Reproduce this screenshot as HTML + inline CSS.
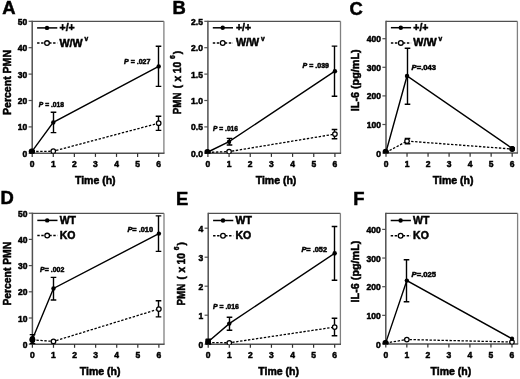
<!DOCTYPE html>
<html><head><meta charset="utf-8"><style>
html,body{margin:0;padding:0;background:#fff;}
svg{display:block;will-change:transform;}
text{font-family:"Liberation Sans", sans-serif;font-weight:bold;fill:#000;stroke:#000;stroke-width:0.5px;}
</style></head><body>
<svg width="520" height="379" viewBox="0 0 520 379">
<rect width="520" height="379" fill="#fff"/>
<path d="M32.2 21.3H163.9" stroke="#505050" stroke-width="1.3" fill="none"/>
<path d="M163.9 21.3V153.3" stroke="#808080" stroke-width="1.3" fill="none"/>
<path d="M32.2 20.7V153.9" stroke="#505050" stroke-width="1.5" fill="none"/>
<path d="M31.6 153.3H164.5" stroke="#505050" stroke-width="1.5" fill="none"/>
<path d="M28.6 153.3H32.2" stroke="#505050" stroke-width="1.2"/>
<text x="27.200000000000003" y="156.8" text-anchor="end" font-size="8.5">0</text>
<path d="M28.6 126.9H32.2" stroke="#505050" stroke-width="1.2"/>
<text x="27.200000000000003" y="130.4" text-anchor="end" font-size="8.5">10</text>
<path d="M28.6 100.5H32.2" stroke="#505050" stroke-width="1.2"/>
<text x="27.200000000000003" y="104.0" text-anchor="end" font-size="8.5">20</text>
<path d="M28.6 74.1H32.2" stroke="#505050" stroke-width="1.2"/>
<text x="27.200000000000003" y="77.6" text-anchor="end" font-size="8.5">30</text>
<path d="M28.6 47.7H32.2" stroke="#505050" stroke-width="1.2"/>
<text x="27.200000000000003" y="51.2" text-anchor="end" font-size="8.5">40</text>
<path d="M28.6 21.3H32.2" stroke="#505050" stroke-width="1.2"/>
<text x="27.200000000000003" y="24.8" text-anchor="end" font-size="8.5">50</text>
<path d="M32.20 153.3V156.9" stroke="#303030" stroke-width="1.2"/>
<text x="32.20" y="167.0" text-anchor="middle" font-size="8.5">0</text>
<path d="M53.28 153.3V156.9" stroke="#303030" stroke-width="1.2"/>
<text x="53.28" y="167.0" text-anchor="middle" font-size="8.5">1</text>
<path d="M74.36 153.3V156.9" stroke="#303030" stroke-width="1.2"/>
<text x="74.36" y="167.0" text-anchor="middle" font-size="8.5">2</text>
<path d="M95.44 153.3V156.9" stroke="#303030" stroke-width="1.2"/>
<text x="95.44" y="167.0" text-anchor="middle" font-size="8.5">3</text>
<path d="M116.52 153.3V156.9" stroke="#303030" stroke-width="1.2"/>
<text x="116.52" y="167.0" text-anchor="middle" font-size="8.5">4</text>
<path d="M137.60 153.3V156.9" stroke="#303030" stroke-width="1.2"/>
<text x="137.60" y="167.0" text-anchor="middle" font-size="8.5">5</text>
<path d="M158.68 153.3V156.9" stroke="#303030" stroke-width="1.2"/>
<text x="158.68" y="167.0" text-anchor="middle" font-size="8.5">6</text>
<text x="95.3" y="183.6" text-anchor="middle" font-size="10.5">Time (h)</text>
<text transform="translate(10.6 115) rotate(-90)" font-size="10.5" textLength="65" lengthAdjust="spacingAndGlyphs">Percent PMN</text>
<text x="2.3" y="14.2" font-size="18.4">A</text>
<path d="M37.1 27.9H57.300000000000004" stroke="#000" stroke-width="1.5"/>
<circle cx="47.0" cy="27.9" r="2.2" fill="#000"/>
<path d="M37.1 43.099999999999994H57.300000000000004" stroke="#000" stroke-width="1.5" stroke-dasharray="2.4,1.6"/>
<circle cx="47.0" cy="43.099999999999994" r="2.35" fill="#fff" stroke="#000" stroke-width="1.3"/>
<text x="59.5" y="31.299999999999997" font-size="10.5">+/+</text>
<text x="59.5" y="46.49999999999999" font-size="10.5" textLength="23.2" lengthAdjust="spacingAndGlyphs">W/W</text>
<text x="84.6" y="40.99999999999999" font-size="6.6">v</text>
<clipPath id="cA"><rect x="20.200000000000003" y="-8.7" width="155.7" height="162.45"/></clipPath>
<g clip-path="url(#cA)">
<polyline points="32.20,151.60 53.28,151.20 158.68,123.20" fill="none" stroke="#000" stroke-width="1.2999999999999998" stroke-dasharray="2.4,1.6"/>
<polyline points="32.20,151.20 53.28,122.40 158.68,66.40" fill="none" stroke="#000" stroke-width="1.4"/>
<path d="M53.50 112.3V132.6M50.70 112.3H56.30M50.70 132.6H56.30" stroke="#000" stroke-width="1.4" fill="none"/>
<path d="M158.50 46.3V86.4M155.70 46.3H161.30M155.70 86.4H161.30" stroke="#000" stroke-width="1.4" fill="none"/>
<path d="M158.50 116.3V130.4M155.70 116.3H161.30M155.70 130.4H161.30" stroke="#000" stroke-width="1.4" fill="none"/>
<circle cx="32.20" cy="151.6" r="2.25" fill="#fff" stroke="#000" stroke-width="1.25"/>
<circle cx="53.28" cy="151.2" r="2.25" fill="#fff" stroke="#000" stroke-width="1.25"/>
<circle cx="158.68" cy="123.2" r="2.25" fill="#fff" stroke="#000" stroke-width="1.25"/>
<circle cx="32.20" cy="151.2" r="2.2" fill="#000"/>
<circle cx="53.28" cy="122.4" r="2.2" fill="#000"/>
<circle cx="158.68" cy="66.4" r="2.2" fill="#000"/>
<circle cx="31.6" cy="151.4" r="2.9" fill="#000"/>
</g>
<text x="38.8" y="106.6" font-size="7.2" textLength="25.2" lengthAdjust="spacingAndGlyphs"><tspan font-style="italic">P</tspan> = .018</text>
<text x="124.0" y="63.6" font-size="7.2" textLength="26.4" lengthAdjust="spacingAndGlyphs"><tspan font-style="italic">P</tspan> = .027</text>
<path d="M207.9 21.3H340.5" stroke="#505050" stroke-width="1.3" fill="none"/>
<path d="M340.5 21.3V153.3" stroke="#808080" stroke-width="1.3" fill="none"/>
<path d="M207.9 20.7V153.9" stroke="#505050" stroke-width="1.5" fill="none"/>
<path d="M207.3 153.3H341.1" stroke="#505050" stroke-width="1.5" fill="none"/>
<path d="M204.3 153.3H207.9" stroke="#505050" stroke-width="1.2"/>
<text x="202.9" y="156.8" text-anchor="end" font-size="8.5">0.0</text>
<path d="M204.3 126.9H207.9" stroke="#505050" stroke-width="1.2"/>
<text x="202.9" y="130.4" text-anchor="end" font-size="8.5">0.5</text>
<path d="M204.3 100.5H207.9" stroke="#505050" stroke-width="1.2"/>
<text x="202.9" y="104.0" text-anchor="end" font-size="8.5">1.0</text>
<path d="M204.3 74.1H207.9" stroke="#505050" stroke-width="1.2"/>
<text x="202.9" y="77.6" text-anchor="end" font-size="8.5">1.5</text>
<path d="M204.3 47.7H207.9" stroke="#505050" stroke-width="1.2"/>
<text x="202.9" y="51.2" text-anchor="end" font-size="8.5">2.0</text>
<path d="M204.3 21.3H207.9" stroke="#505050" stroke-width="1.2"/>
<text x="202.9" y="24.8" text-anchor="end" font-size="8.5">2.5</text>
<path d="M207.90 153.3V156.9" stroke="#303030" stroke-width="1.2"/>
<text x="207.90" y="167.0" text-anchor="middle" font-size="8.5">0</text>
<path d="M229.07 153.3V156.9" stroke="#303030" stroke-width="1.2"/>
<text x="229.07" y="167.0" text-anchor="middle" font-size="8.5">1</text>
<path d="M250.24 153.3V156.9" stroke="#303030" stroke-width="1.2"/>
<text x="250.24" y="167.0" text-anchor="middle" font-size="8.5">2</text>
<path d="M271.41 153.3V156.9" stroke="#303030" stroke-width="1.2"/>
<text x="271.41" y="167.0" text-anchor="middle" font-size="8.5">3</text>
<path d="M292.58 153.3V156.9" stroke="#303030" stroke-width="1.2"/>
<text x="292.58" y="167.0" text-anchor="middle" font-size="8.5">4</text>
<path d="M313.75 153.3V156.9" stroke="#303030" stroke-width="1.2"/>
<text x="313.75" y="167.0" text-anchor="middle" font-size="8.5">5</text>
<path d="M334.92 153.3V156.9" stroke="#303030" stroke-width="1.2"/>
<text x="334.92" y="167.0" text-anchor="middle" font-size="8.5">6</text>
<text x="276.0" y="183.5" text-anchor="middle" font-size="10.5">Time (h)</text>
<g transform="translate(181.2 113.8) rotate(-90)" font-size="10.2"><text x="-0.4" y="0" textLength="21.6" lengthAdjust="spacingAndGlyphs">PMN</text><text x="25.6" y="0">(</text><text x="32.4" y="0">x</text><text x="40.6" y="0" textLength="11.4" lengthAdjust="spacingAndGlyphs">10</text><text x="54.8" y="-6.2" font-size="6.8">6</text><text x="59.6" y="0">)</text></g>
<text x="172.6" y="14.0" font-size="18.4">B</text>
<path d="M212.8 27.8H233.0" stroke="#000" stroke-width="1.5"/>
<circle cx="222.70000000000002" cy="27.8" r="2.2" fill="#000"/>
<path d="M212.8 43.0H233.0" stroke="#000" stroke-width="1.5" stroke-dasharray="2.4,1.6"/>
<circle cx="222.70000000000002" cy="43.0" r="2.35" fill="#fff" stroke="#000" stroke-width="1.3"/>
<text x="235.9" y="31.2" font-size="10.5">+/+</text>
<text x="235.9" y="46.4" font-size="10.5" textLength="23.2" lengthAdjust="spacingAndGlyphs">W/W</text>
<text x="261.0" y="40.9" font-size="6.6">v</text>
<clipPath id="cB"><rect x="195.9" y="-8.7" width="156.6" height="162.45"/></clipPath>
<g clip-path="url(#cB)">
<polyline points="207.90,152.40 229.07,151.60 334.92,134.10" fill="none" stroke="#000" stroke-width="1.2999999999999998" stroke-dasharray="2.4,1.6"/>
<polyline points="207.90,152.00 229.07,141.70 334.92,71.20" fill="none" stroke="#000" stroke-width="1.4"/>
<path d="M229.50 138.4V145.0M226.70 138.4H232.30M226.70 145.0H232.30" stroke="#000" stroke-width="1.4" fill="none"/>
<path d="M334.50 46.1V96.3M331.70 46.1H337.30M331.70 96.3H337.30" stroke="#000" stroke-width="1.4" fill="none"/>
<path d="M334.50 129.5V138.8M331.70 129.5H337.30M331.70 138.8H337.30" stroke="#000" stroke-width="1.4" fill="none"/>
<circle cx="207.90" cy="152.4" r="2.25" fill="#fff" stroke="#000" stroke-width="1.25"/>
<circle cx="229.07" cy="151.6" r="2.25" fill="#fff" stroke="#000" stroke-width="1.25"/>
<circle cx="334.92" cy="134.1" r="2.25" fill="#fff" stroke="#000" stroke-width="1.25"/>
<circle cx="207.90" cy="152.0" r="2.2" fill="#000"/>
<circle cx="229.07" cy="141.7" r="2.2" fill="#000"/>
<circle cx="334.92" cy="71.2" r="2.2" fill="#000"/>
<circle cx="207.3" cy="151.9" r="2.85" fill="#000"/>
</g>
<text x="213.0" y="131.0" font-size="7.2" textLength="25.0" lengthAdjust="spacingAndGlyphs"><tspan font-style="italic">P</tspan> = .016</text>
<text x="302.6" y="67.8" font-size="7.2" textLength="26.4" lengthAdjust="spacingAndGlyphs"><tspan font-style="italic">P</tspan> = .039</text>
<path d="M386.0 21.3H517.4" stroke="#505050" stroke-width="1.3" fill="none"/>
<path d="M517.4 21.3V153.1" stroke="#808080" stroke-width="1.3" fill="none"/>
<path d="M386.0 20.7V153.7" stroke="#505050" stroke-width="1.5" fill="none"/>
<path d="M385.4 153.1H518.0" stroke="#505050" stroke-width="1.5" fill="none"/>
<path d="M382.4 153.1H386.0" stroke="#505050" stroke-width="1.2"/>
<text x="381.0" y="156.6" text-anchor="end" font-size="8.5">0</text>
<path d="M382.4 124.5H386.0" stroke="#505050" stroke-width="1.2"/>
<text x="381.0" y="128.0" text-anchor="end" font-size="8.5">100</text>
<path d="M382.4 95.9H386.0" stroke="#505050" stroke-width="1.2"/>
<text x="381.0" y="99.4" text-anchor="end" font-size="8.5">200</text>
<path d="M382.4 67.3H386.0" stroke="#505050" stroke-width="1.2"/>
<text x="381.0" y="70.8" text-anchor="end" font-size="8.5">300</text>
<path d="M382.4 38.7H386.0" stroke="#505050" stroke-width="1.2"/>
<text x="381.0" y="42.2" text-anchor="end" font-size="8.5">400</text>
<path d="M386.00 153.1V156.7" stroke="#303030" stroke-width="1.2"/>
<text x="386.00" y="166.79999999999998" text-anchor="middle" font-size="8.5">0</text>
<path d="M407.03 153.1V156.7" stroke="#303030" stroke-width="1.2"/>
<text x="407.03" y="166.79999999999998" text-anchor="middle" font-size="8.5">1</text>
<path d="M428.06 153.1V156.7" stroke="#303030" stroke-width="1.2"/>
<text x="428.06" y="166.79999999999998" text-anchor="middle" font-size="8.5">2</text>
<path d="M449.09 153.1V156.7" stroke="#303030" stroke-width="1.2"/>
<text x="449.09" y="166.79999999999998" text-anchor="middle" font-size="8.5">3</text>
<path d="M470.12 153.1V156.7" stroke="#303030" stroke-width="1.2"/>
<text x="470.12" y="166.79999999999998" text-anchor="middle" font-size="8.5">4</text>
<path d="M491.15 153.1V156.7" stroke="#303030" stroke-width="1.2"/>
<text x="491.15" y="166.79999999999998" text-anchor="middle" font-size="8.5">5</text>
<path d="M512.18 153.1V156.7" stroke="#303030" stroke-width="1.2"/>
<text x="512.18" y="166.79999999999998" text-anchor="middle" font-size="8.5">6</text>
<text x="453.1" y="183.5" text-anchor="middle" font-size="10.5">Time (h)</text>
<text transform="translate(359.3 111.2) rotate(-90)" font-size="10.5" textLength="61.8" lengthAdjust="spacingAndGlyphs">IL-6 (pg/mL)</text>
<text x="349.6" y="14.5" font-size="18.4">C</text>
<path d="M390.9 27.7H411.1" stroke="#000" stroke-width="1.5"/>
<circle cx="400.8" cy="27.7" r="2.2" fill="#000"/>
<path d="M390.9 42.9H411.1" stroke="#000" stroke-width="1.5" stroke-dasharray="2.4,1.6"/>
<circle cx="400.8" cy="42.9" r="2.35" fill="#fff" stroke="#000" stroke-width="1.3"/>
<text x="413.3" y="31.099999999999998" font-size="10.5">+/+</text>
<text x="413.3" y="46.3" font-size="10.5" textLength="23.2" lengthAdjust="spacingAndGlyphs">W/W</text>
<text x="438.40000000000003" y="40.8" font-size="6.6">v</text>
<clipPath id="cC"><rect x="374.0" y="-8.7" width="155.39999999999998" height="162.24999999999997"/></clipPath>
<g clip-path="url(#cC)">
<polyline points="386.00,152.40 407.03,141.10 512.18,149.00" fill="none" stroke="#000" stroke-width="1.2999999999999998" stroke-dasharray="2.4,1.6"/>
<polyline points="386.00,152.00 407.03,76.00 512.18,148.40" fill="none" stroke="#000" stroke-width="1.4"/>
<path d="M407.50 48.3V104.3M404.70 48.3H410.30M404.70 104.3H410.30" stroke="#000" stroke-width="1.4" fill="none"/>
<path d="M407.50 138.5V143.7M404.70 138.5H410.30M404.70 143.7H410.30" stroke="#000" stroke-width="1.4" fill="none"/>
<circle cx="386.00" cy="152.4" r="2.25" fill="#fff" stroke="#000" stroke-width="1.25"/>
<circle cx="407.03" cy="141.1" r="2.25" fill="#fff" stroke="#000" stroke-width="1.25"/>
<circle cx="512.18" cy="149.0" r="2.25" fill="#fff" stroke="#000" stroke-width="1.25"/>
<circle cx="386.00" cy="152.0" r="2.2" fill="#000"/>
<circle cx="407.03" cy="76.0" r="2.2" fill="#000"/>
<circle cx="512.18" cy="148.4" r="2.2" fill="#000"/>
<circle cx="512.3" cy="148.8" r="2.75" fill="#000"/>
<circle cx="385.6" cy="151.6" r="2.95" fill="#000"/>
</g>
<text x="411.6" y="70.4" font-size="7.2" textLength="24.4" lengthAdjust="spacingAndGlyphs"><tspan font-style="italic">P</tspan>=.043</text>
<path d="M32.4 213.3H164.0" stroke="#505050" stroke-width="1.3" fill="none"/>
<path d="M164.0 213.3V344.2" stroke="#808080" stroke-width="1.3" fill="none"/>
<path d="M32.4 212.70000000000002V344.8" stroke="#505050" stroke-width="1.5" fill="none"/>
<path d="M31.799999999999997 344.2H164.6" stroke="#505050" stroke-width="1.5" fill="none"/>
<path d="M28.799999999999997 344.2H32.4" stroke="#505050" stroke-width="1.2"/>
<text x="27.4" y="347.7" text-anchor="end" font-size="8.5">0</text>
<path d="M28.799999999999997 318.0H32.4" stroke="#505050" stroke-width="1.2"/>
<text x="27.4" y="321.5" text-anchor="end" font-size="8.5">10</text>
<path d="M28.799999999999997 291.8H32.4" stroke="#505050" stroke-width="1.2"/>
<text x="27.4" y="295.3" text-anchor="end" font-size="8.5">20</text>
<path d="M28.799999999999997 265.6H32.4" stroke="#505050" stroke-width="1.2"/>
<text x="27.4" y="269.1" text-anchor="end" font-size="8.5">30</text>
<path d="M28.799999999999997 239.4H32.4" stroke="#505050" stroke-width="1.2"/>
<text x="27.4" y="242.9" text-anchor="end" font-size="8.5">40</text>
<path d="M28.799999999999997 213.2H32.4" stroke="#505050" stroke-width="1.2"/>
<text x="27.4" y="216.7" text-anchor="end" font-size="8.5">50</text>
<path d="M32.40 344.2V347.8" stroke="#303030" stroke-width="1.2"/>
<text x="32.40" y="357.9" text-anchor="middle" font-size="8.5">0</text>
<path d="M53.48 344.2V347.8" stroke="#303030" stroke-width="1.2"/>
<text x="53.48" y="357.9" text-anchor="middle" font-size="8.5">1</text>
<path d="M74.56 344.2V347.8" stroke="#303030" stroke-width="1.2"/>
<text x="74.56" y="357.9" text-anchor="middle" font-size="8.5">2</text>
<path d="M95.64 344.2V347.8" stroke="#303030" stroke-width="1.2"/>
<text x="95.64" y="357.9" text-anchor="middle" font-size="8.5">3</text>
<path d="M116.72 344.2V347.8" stroke="#303030" stroke-width="1.2"/>
<text x="116.72" y="357.9" text-anchor="middle" font-size="8.5">4</text>
<path d="M137.80 344.2V347.8" stroke="#303030" stroke-width="1.2"/>
<text x="137.80" y="357.9" text-anchor="middle" font-size="8.5">5</text>
<path d="M158.88 344.2V347.8" stroke="#303030" stroke-width="1.2"/>
<text x="158.88" y="357.9" text-anchor="middle" font-size="8.5">6</text>
<text x="100.2" y="375.4" text-anchor="middle" font-size="10.5">Time (h)</text>
<text transform="translate(10.6 305.6) rotate(-90)" font-size="10.5" textLength="63.8" lengthAdjust="spacingAndGlyphs">Percent PMN</text>
<text x="0.5" y="204.4" font-size="18.4">D</text>
<path d="M37.3 220.4H57.5" stroke="#000" stroke-width="1.5"/>
<circle cx="47.2" cy="220.4" r="2.2" fill="#000"/>
<path d="M37.3 235.6H57.5" stroke="#000" stroke-width="1.5" stroke-dasharray="2.4,1.6"/>
<circle cx="47.2" cy="235.6" r="2.35" fill="#fff" stroke="#000" stroke-width="1.3"/>
<text x="59.7" y="223.8" font-size="10.5">WT</text>
<text x="59.7" y="239.0" font-size="10.5">KO</text>
<clipPath id="cD"><rect x="20.4" y="183.3" width="155.6" height="161.34999999999997"/></clipPath>
<g clip-path="url(#cD)">
<polyline points="32.40,339.90 53.48,341.40 158.88,309.00" fill="none" stroke="#000" stroke-width="1.2999999999999998" stroke-dasharray="2.4,1.6"/>
<polyline points="32.40,339.20 53.48,288.50 158.88,233.60" fill="none" stroke="#000" stroke-width="1.4"/>
<path d="M32.50 334.6V343.6M29.70 334.6H35.30M29.70 343.6H35.30" stroke="#000" stroke-width="1.4" fill="none"/>
<path d="M53.50 277.4V300.0M50.70 277.4H56.30M50.70 300.0H56.30" stroke="#000" stroke-width="1.4" fill="none"/>
<path d="M158.50 215.9V251.4M155.70 215.9H161.30M155.70 251.4H161.30" stroke="#000" stroke-width="1.4" fill="none"/>
<path d="M158.50 300.8V316.9M155.70 300.8H161.30M155.70 316.9H161.30" stroke="#000" stroke-width="1.4" fill="none"/>
<circle cx="32.40" cy="339.9" r="2.25" fill="#fff" stroke="#000" stroke-width="1.25"/>
<circle cx="53.48" cy="341.4" r="2.25" fill="#fff" stroke="#000" stroke-width="1.25"/>
<circle cx="158.88" cy="309.0" r="2.25" fill="#fff" stroke="#000" stroke-width="1.25"/>
<circle cx="32.40" cy="339.2" r="2.2" fill="#000"/>
<circle cx="53.48" cy="288.5" r="2.2" fill="#000"/>
<circle cx="158.88" cy="233.6" r="2.2" fill="#000"/>
<ellipse cx="32.4" cy="339.5" rx="2.8" ry="3.4" fill="#000"/>
</g>
<text x="40.1" y="272.0" font-size="7.2" textLength="24.2" lengthAdjust="spacingAndGlyphs"><tspan font-style="italic">P</tspan>= .002</text>
<text x="127.4" y="232.2" font-size="7.2" textLength="25.6" lengthAdjust="spacingAndGlyphs"><tspan font-style="italic">P</tspan>= .010</text>
<path d="M208.2 213.3H340.4" stroke="#505050" stroke-width="1.3" fill="none"/>
<path d="M340.4 213.3V344.2" stroke="#808080" stroke-width="1.3" fill="none"/>
<path d="M208.2 212.70000000000002V344.8" stroke="#505050" stroke-width="1.5" fill="none"/>
<path d="M207.6 344.2H341.0" stroke="#505050" stroke-width="1.5" fill="none"/>
<path d="M204.6 344.2H208.2" stroke="#505050" stroke-width="1.2"/>
<text x="203.2" y="347.7" text-anchor="end" font-size="8.5">0</text>
<path d="M204.6 315.2H208.2" stroke="#505050" stroke-width="1.2"/>
<text x="203.2" y="318.7" text-anchor="end" font-size="8.5">1</text>
<path d="M204.6 286.2H208.2" stroke="#505050" stroke-width="1.2"/>
<text x="203.2" y="289.7" text-anchor="end" font-size="8.5">2</text>
<path d="M204.6 257.2H208.2" stroke="#505050" stroke-width="1.2"/>
<text x="203.2" y="260.7" text-anchor="end" font-size="8.5">3</text>
<path d="M204.6 228.2H208.2" stroke="#505050" stroke-width="1.2"/>
<text x="203.2" y="231.7" text-anchor="end" font-size="8.5">4</text>
<path d="M208.20 344.2V347.8" stroke="#303030" stroke-width="1.2"/>
<text x="208.20" y="357.9" text-anchor="middle" font-size="8.5">0</text>
<path d="M229.28 344.2V347.8" stroke="#303030" stroke-width="1.2"/>
<text x="229.28" y="357.9" text-anchor="middle" font-size="8.5">1</text>
<path d="M250.36 344.2V347.8" stroke="#303030" stroke-width="1.2"/>
<text x="250.36" y="357.9" text-anchor="middle" font-size="8.5">2</text>
<path d="M271.44 344.2V347.8" stroke="#303030" stroke-width="1.2"/>
<text x="271.44" y="357.9" text-anchor="middle" font-size="8.5">3</text>
<path d="M292.52 344.2V347.8" stroke="#303030" stroke-width="1.2"/>
<text x="292.52" y="357.9" text-anchor="middle" font-size="8.5">4</text>
<path d="M313.60 344.2V347.8" stroke="#303030" stroke-width="1.2"/>
<text x="313.60" y="357.9" text-anchor="middle" font-size="8.5">5</text>
<path d="M334.68 344.2V347.8" stroke="#303030" stroke-width="1.2"/>
<text x="334.68" y="357.9" text-anchor="middle" font-size="8.5">6</text>
<text x="278.6" y="375.4" text-anchor="middle" font-size="10.5">Time (h)</text>
<g transform="translate(185.0 305.0) rotate(-90)" font-size="10.2"><text x="-0.4" y="0" textLength="21.6" lengthAdjust="spacingAndGlyphs">PMN</text><text x="25.6" y="0">(</text><text x="32.4" y="0">x</text><text x="40.6" y="0" textLength="11.4" lengthAdjust="spacingAndGlyphs">10</text><text x="54.8" y="-6.2" font-size="6.8">6</text><text x="59.6" y="0">)</text></g>
<text x="175.9" y="204.9" font-size="18.4">E</text>
<path d="M213.1 220.5H233.29999999999998" stroke="#000" stroke-width="1.5"/>
<circle cx="223.0" cy="220.5" r="2.2" fill="#000"/>
<path d="M213.1 235.7H233.29999999999998" stroke="#000" stroke-width="1.5" stroke-dasharray="2.4,1.6"/>
<circle cx="223.0" cy="235.7" r="2.35" fill="#fff" stroke="#000" stroke-width="1.3"/>
<text x="235.5" y="223.9" font-size="10.5">WT</text>
<text x="235.5" y="239.1" font-size="10.5">KO</text>
<clipPath id="cE"><rect x="196.2" y="183.3" width="156.2" height="161.34999999999997"/></clipPath>
<g clip-path="url(#cE)">
<polyline points="208.20,342.50 229.28,342.80 334.68,327.10" fill="none" stroke="#000" stroke-width="1.2999999999999998" stroke-dasharray="2.4,1.6"/>
<polyline points="208.20,341.70 229.28,323.60 334.68,253.30" fill="none" stroke="#000" stroke-width="1.4"/>
<path d="M208.50 339.2V344.0M205.70 339.2H211.30M205.70 344.0H211.30" stroke="#000" stroke-width="1.4" fill="none"/>
<path d="M229.50 317.2V330.2M226.70 317.2H232.30M226.70 330.2H232.30" stroke="#000" stroke-width="1.4" fill="none"/>
<path d="M334.50 226.5V280.3M331.70 226.5H337.30M331.70 280.3H337.30" stroke="#000" stroke-width="1.4" fill="none"/>
<path d="M334.50 318.2V335.8M331.70 318.2H337.30M331.70 335.8H337.30" stroke="#000" stroke-width="1.4" fill="none"/>
<circle cx="208.20" cy="342.5" r="2.25" fill="#fff" stroke="#000" stroke-width="1.25"/>
<circle cx="229.28" cy="342.8" r="2.25" fill="#fff" stroke="#000" stroke-width="1.25"/>
<circle cx="334.68" cy="327.1" r="2.25" fill="#fff" stroke="#000" stroke-width="1.25"/>
<circle cx="208.20" cy="341.7" r="2.2" fill="#000"/>
<circle cx="229.28" cy="323.6" r="2.2" fill="#000"/>
<circle cx="334.68" cy="253.3" r="2.2" fill="#000"/>
<rect x="205.3" y="339.3" width="5.6" height="5" fill="#000"/>
</g>
<text x="212.9" y="309.4" font-size="7.2" textLength="26.0" lengthAdjust="spacingAndGlyphs"><tspan font-style="italic">P</tspan> = .016</text>
<text x="301.4" y="251.5" font-size="7.2" textLength="25.6" lengthAdjust="spacingAndGlyphs"><tspan font-style="italic">P</tspan>= .052</text>
<path d="M385.8 213.3H517.6" stroke="#505050" stroke-width="1.3" fill="none"/>
<path d="M517.6 213.3V344.0" stroke="#808080" stroke-width="1.3" fill="none"/>
<path d="M385.8 212.70000000000002V344.6" stroke="#505050" stroke-width="1.5" fill="none"/>
<path d="M385.2 344.0H518.2" stroke="#505050" stroke-width="1.5" fill="none"/>
<path d="M382.2 344.0H385.8" stroke="#505050" stroke-width="1.2"/>
<text x="380.8" y="347.5" text-anchor="end" font-size="8.5">0</text>
<path d="M382.2 315.35H385.8" stroke="#505050" stroke-width="1.2"/>
<text x="380.8" y="318.85" text-anchor="end" font-size="8.5">100</text>
<path d="M382.2 286.7H385.8" stroke="#505050" stroke-width="1.2"/>
<text x="380.8" y="290.2" text-anchor="end" font-size="8.5">200</text>
<path d="M382.2 258.05H385.8" stroke="#505050" stroke-width="1.2"/>
<text x="380.8" y="261.55" text-anchor="end" font-size="8.5">300</text>
<path d="M382.2 229.4H385.8" stroke="#505050" stroke-width="1.2"/>
<text x="380.8" y="232.9" text-anchor="end" font-size="8.5">400</text>
<path d="M385.80 344.0V347.6" stroke="#303030" stroke-width="1.2"/>
<text x="385.80" y="357.7" text-anchor="middle" font-size="8.5">0</text>
<path d="M406.83 344.0V347.6" stroke="#303030" stroke-width="1.2"/>
<text x="406.83" y="357.7" text-anchor="middle" font-size="8.5">1</text>
<path d="M427.86 344.0V347.6" stroke="#303030" stroke-width="1.2"/>
<text x="427.86" y="357.7" text-anchor="middle" font-size="8.5">2</text>
<path d="M448.89 344.0V347.6" stroke="#303030" stroke-width="1.2"/>
<text x="448.89" y="357.7" text-anchor="middle" font-size="8.5">3</text>
<path d="M469.92 344.0V347.6" stroke="#303030" stroke-width="1.2"/>
<text x="469.92" y="357.7" text-anchor="middle" font-size="8.5">4</text>
<path d="M490.95 344.0V347.6" stroke="#303030" stroke-width="1.2"/>
<text x="490.95" y="357.7" text-anchor="middle" font-size="8.5">5</text>
<path d="M511.98 344.0V347.6" stroke="#303030" stroke-width="1.2"/>
<text x="511.98" y="357.7" text-anchor="middle" font-size="8.5">6</text>
<text x="450.9" y="375.4" text-anchor="middle" font-size="10.5">Time (h)</text>
<text transform="translate(359.2 302.4) rotate(-90)" font-size="10.5" textLength="61.8" lengthAdjust="spacingAndGlyphs">IL-6 (pg/mL)</text>
<text x="353.2" y="204.9" font-size="18.4">F</text>
<path d="M390.7 220.5H410.90000000000003" stroke="#000" stroke-width="1.5"/>
<circle cx="400.6" cy="220.5" r="2.2" fill="#000"/>
<path d="M390.7 235.7H410.90000000000003" stroke="#000" stroke-width="1.5" stroke-dasharray="2.4,1.6"/>
<circle cx="400.6" cy="235.7" r="2.35" fill="#fff" stroke="#000" stroke-width="1.3"/>
<text x="413.1" y="223.9" font-size="10.5">WT</text>
<text x="413.1" y="239.1" font-size="10.5">KO</text>
<clipPath id="cF"><rect x="373.8" y="183.3" width="155.8" height="161.14999999999998"/></clipPath>
<g clip-path="url(#cF)">
<polyline points="385.80,343.00 406.83,339.50 511.98,342.00" fill="none" stroke="#000" stroke-width="1.2999999999999998" stroke-dasharray="2.4,1.6"/>
<polyline points="385.80,342.60 406.83,280.60 511.98,338.70" fill="none" stroke="#000" stroke-width="1.4"/>
<path d="M406.50 259.7V301.7M403.70 259.7H409.30M403.70 301.7H409.30" stroke="#000" stroke-width="1.4" fill="none"/>
<circle cx="385.80" cy="343.0" r="2.25" fill="#fff" stroke="#000" stroke-width="1.25"/>
<circle cx="406.83" cy="339.5" r="2.25" fill="#fff" stroke="#000" stroke-width="1.25"/>
<circle cx="511.98" cy="342.0" r="2.25" fill="#fff" stroke="#000" stroke-width="1.25"/>
<circle cx="385.80" cy="342.6" r="2.2" fill="#000"/>
<circle cx="406.83" cy="280.6" r="2.2" fill="#000"/>
<circle cx="511.98" cy="338.7" r="2.2" fill="#000"/>
<circle cx="385.4" cy="342.9" r="2.95" fill="#000"/>
</g>
<text x="411.6" y="276.8" font-size="7.2" textLength="24.4" lengthAdjust="spacingAndGlyphs"><tspan font-style="italic">P</tspan>=.025</text>
</svg>
</body></html>
